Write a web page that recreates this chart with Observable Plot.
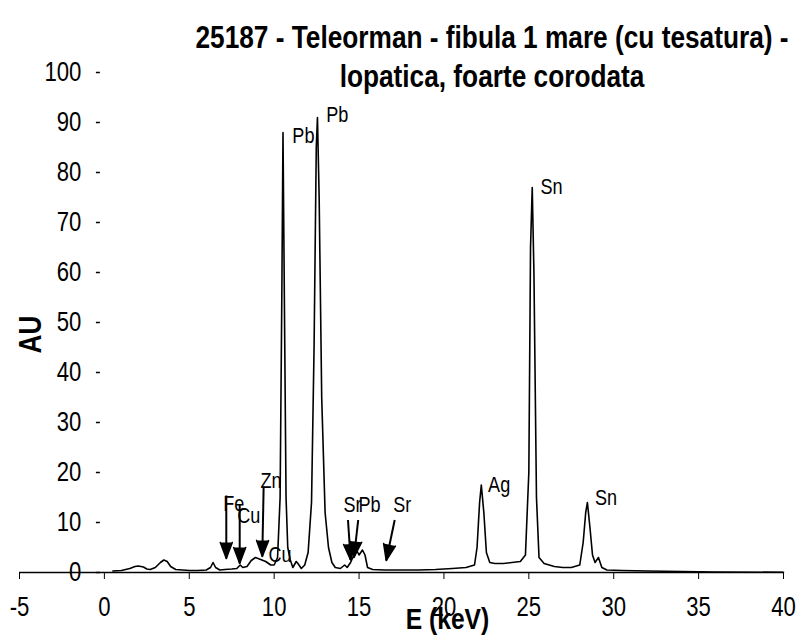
<!DOCTYPE html>
<html><head><meta charset="utf-8">
<script src="https://cdn.jsdelivr.net/npm/d3@7"></script>
<script src="https://cdn.jsdelivr.net/npm/@observablehq/plot@0.6"></script>
<style>
body{margin:0;background:#fff;}
#wrap{position:relative;width:798px;height:637px;overflow:hidden;}
.title{position:absolute;left:492px;top:18px;transform:translateX(-50%) scaleX(0.82);transform-origin:50% 50%;font-family:"Liberation Sans Narrow","Arial Narrow","Liberation Sans",sans-serif;font-weight:bold;font-size:32px;line-height:39px;text-align:center;white-space:nowrap;color:#000;}
</style></head><body>
<div id="wrap"><div class="title">25187 - Teleorman - fibula 1 mare (cu tesatura) -<br>lopatica, foarte corodata</div></div>
<script>
// Spectrum (energy keV, intensity AU)
const energy = [0.5,1.0,1.5,1.8,2.0,2.3,2.5,2.7,3.0,3.3,3.5,3.7,3.9,4.2,4.6,5.0,5.5,6.0,6.25,6.4,6.55,6.8,7.1,7.5,7.8,8.0,8.15,8.4,8.65,8.9,9.2,9.5,9.8,10.0,10.2,10.35,10.45,10.52,10.6,10.7,10.8,10.95,11.1,11.3,11.4,11.6,11.8,12.0,12.2,12.35,12.48,12.55,12.65,12.8,13.0,13.2,13.4,13.6,13.9,14.15,14.3,14.5,14.7,14.85,15.0,15.2,15.35,15.5,15.8,16.5,17.5,18.5,19.5,20.5,21.3,21.8,21.95,22.1,22.2,22.35,22.5,22.7,23.0,23.5,24.0,24.5,24.8,25.0,25.1,25.2,25.3,25.45,25.6,25.9,26.5,27.0,27.5,28.0,28.2,28.35,28.45,28.6,28.75,28.9,29.1,29.3,29.6,30.5,32,34,36,40];
const intensity = [0.3,0.4,0.8,1.2,1.3,1.1,0.7,0.6,1.0,2.0,2.5,2.2,1.2,0.6,0.5,0.4,0.4,0.5,1.0,2.0,1.0,0.5,0.6,0.7,0.8,1.5,1.0,1.2,2.4,3.0,2.6,2.2,1.5,1.5,3,15,55,88,55,15,5,2.5,1.0,2.2,1.8,0.8,1.5,4,14,45,85,91,75,35,12,5,2,1.0,0.8,1.5,1.0,2.0,3.5,4.5,3.5,4.5,3.5,1.0,0.6,0.5,0.5,0.5,0.6,0.8,1.0,1.5,5,14,17.5,12,4,2.0,1.8,1.8,2.0,2.2,3.5,20,65,77,60,15,3,1.8,1.2,1.0,1.0,1.5,6,12,14,9,3.5,2.0,3.0,1.0,0.5,0.4,0.3,0.2,0.1,0.05];

// Element labels
const labelText = ["Pb","Pb","Sn","Ag","Sn","Fe","Cu","Zn","Cu","Sr","Pb","Sr"];
const labelE = [11.07,13.07,25.68,22.6,28.9,7.0,7.83,9.19,9.66,14.08,14.96,17.02];
const labelV = [87.4,91.6,77.2,17.5,15.0,13.8,11.4,18.4,3.5,13.6,13.6,13.6];

// Arrows (from -> to)
const arrowE1 = [7.18,7.97,9.38,14.35,14.95,17.1];
const arrowV1 = [15.4,13.5,17.2,10.5,10.5,10.5];
const arrowE2 = [7.18,7.97,9.3,14.5,14.7,16.6];
const arrowV2 = [2.8,1.8,3.2,2.5,3.0,2.4];

const xTicks = [-5,0,5,10,15,20,25,30,35,40];
const yTicks = [0,10,20,30,40,50,60,70,80,90,100];

const FONT = '"Liberation Sans Narrow","Arial Narrow","Liberation Sans",sans-serif';
const NARROW_RATIO = 0.82;
const W=798,H=637,mL=19,mR=15,mT=72,mB=65;
const pxPerE = (W-mL-mR)/45, pxPerV = (H-mT-mB)/100;

const spectrum = energy.map((e,i)=>({e, v: intensity[i]}));
const labels = labelText.map((t,i)=>({t, e: labelE[i], v: labelV[i]}));
const arrows = arrowE1.map((e1,i)=>{
  const sdx = (arrowE2[i]-e1)*pxPerE, sdy = -(arrowV2[i]-arrowV1[i])*pxPerV;
  return {e1, v1: arrowV1[i], e2: arrowE2[i], v2: arrowV2[i], angle: Math.atan2(sdx, -sdy)*180/Math.PI};
});

const plot = Plot.plot({
  width: W, height: H, marginLeft: mL, marginRight: mR, marginTop: mT, marginBottom: mB,
  style: {fontFamily: FONT, background: "transparent", color: "#000"},
  x: {domain: [-5, 40]},
  y: {domain: [0, 100], axis: null},
  marks: [
    Plot.axisX({ticks: xTicks, tickSize: 7, tickPadding: 17, fontSize: 27, fontFamily: FONT, label: null, tickFormat: d => String(d)}),
    Plot.ruleY(yTicks, {y: d => d, x1: -8/pxPerE, x2: -4/pxPerE, strokeWidth: 1.5}),
    Plot.text(yTicks, {x: 0, y: d => d, text: d => String(d), textAnchor: "end", dx: -23, fontSize: 27, fontFamily: FONT}),
    Plot.ruleY([0], {strokeWidth: 1.3}),
    Plot.line(spectrum, {x: "e", y: "v", stroke: "#000", strokeWidth: 1.6}),
    Plot.link(arrows, {x1: "e1", y1: "v1", x2: "e2", y2: "v2", stroke: "#000", strokeWidth: 2}),
    Plot.vector(arrows, {x: "e2", y: "v2", rotate: "angle", length: 16, r: 6, shape: "spike", anchor: "end", fill: "#000", stroke: "#000"}),
    Plot.text(labels, {x: "e", y: "v", text: "t", textAnchor: "start", fontSize: 22, fontFamily: FONT}),
    Plot.text(["AU"], {frameAnchor: "left", rotate: -90, dx: 11, dy: 31, fontWeight: "bold", fontSize: 32, fontFamily: FONT}),
    Plot.text(["E (keV)"], {frameAnchor: "bottom", dx: 46, dy: 56, fontWeight: "bold", fontSize: 30, fontFamily: FONT})
  ]
});
document.getElementById("wrap").prepend(plot);
// emulate a narrow (condensed) face: compress every text horizontally
plot.querySelectorAll("text").forEach(t => {
  const len = t.getComputedTextLength();
  if (len > 0) {
    t.setAttribute("textLength", (len * NARROW_RATIO).toFixed(1));
    t.setAttribute("lengthAdjust", "spacingAndGlyphs");
  }
});
</script>
</body></html>
